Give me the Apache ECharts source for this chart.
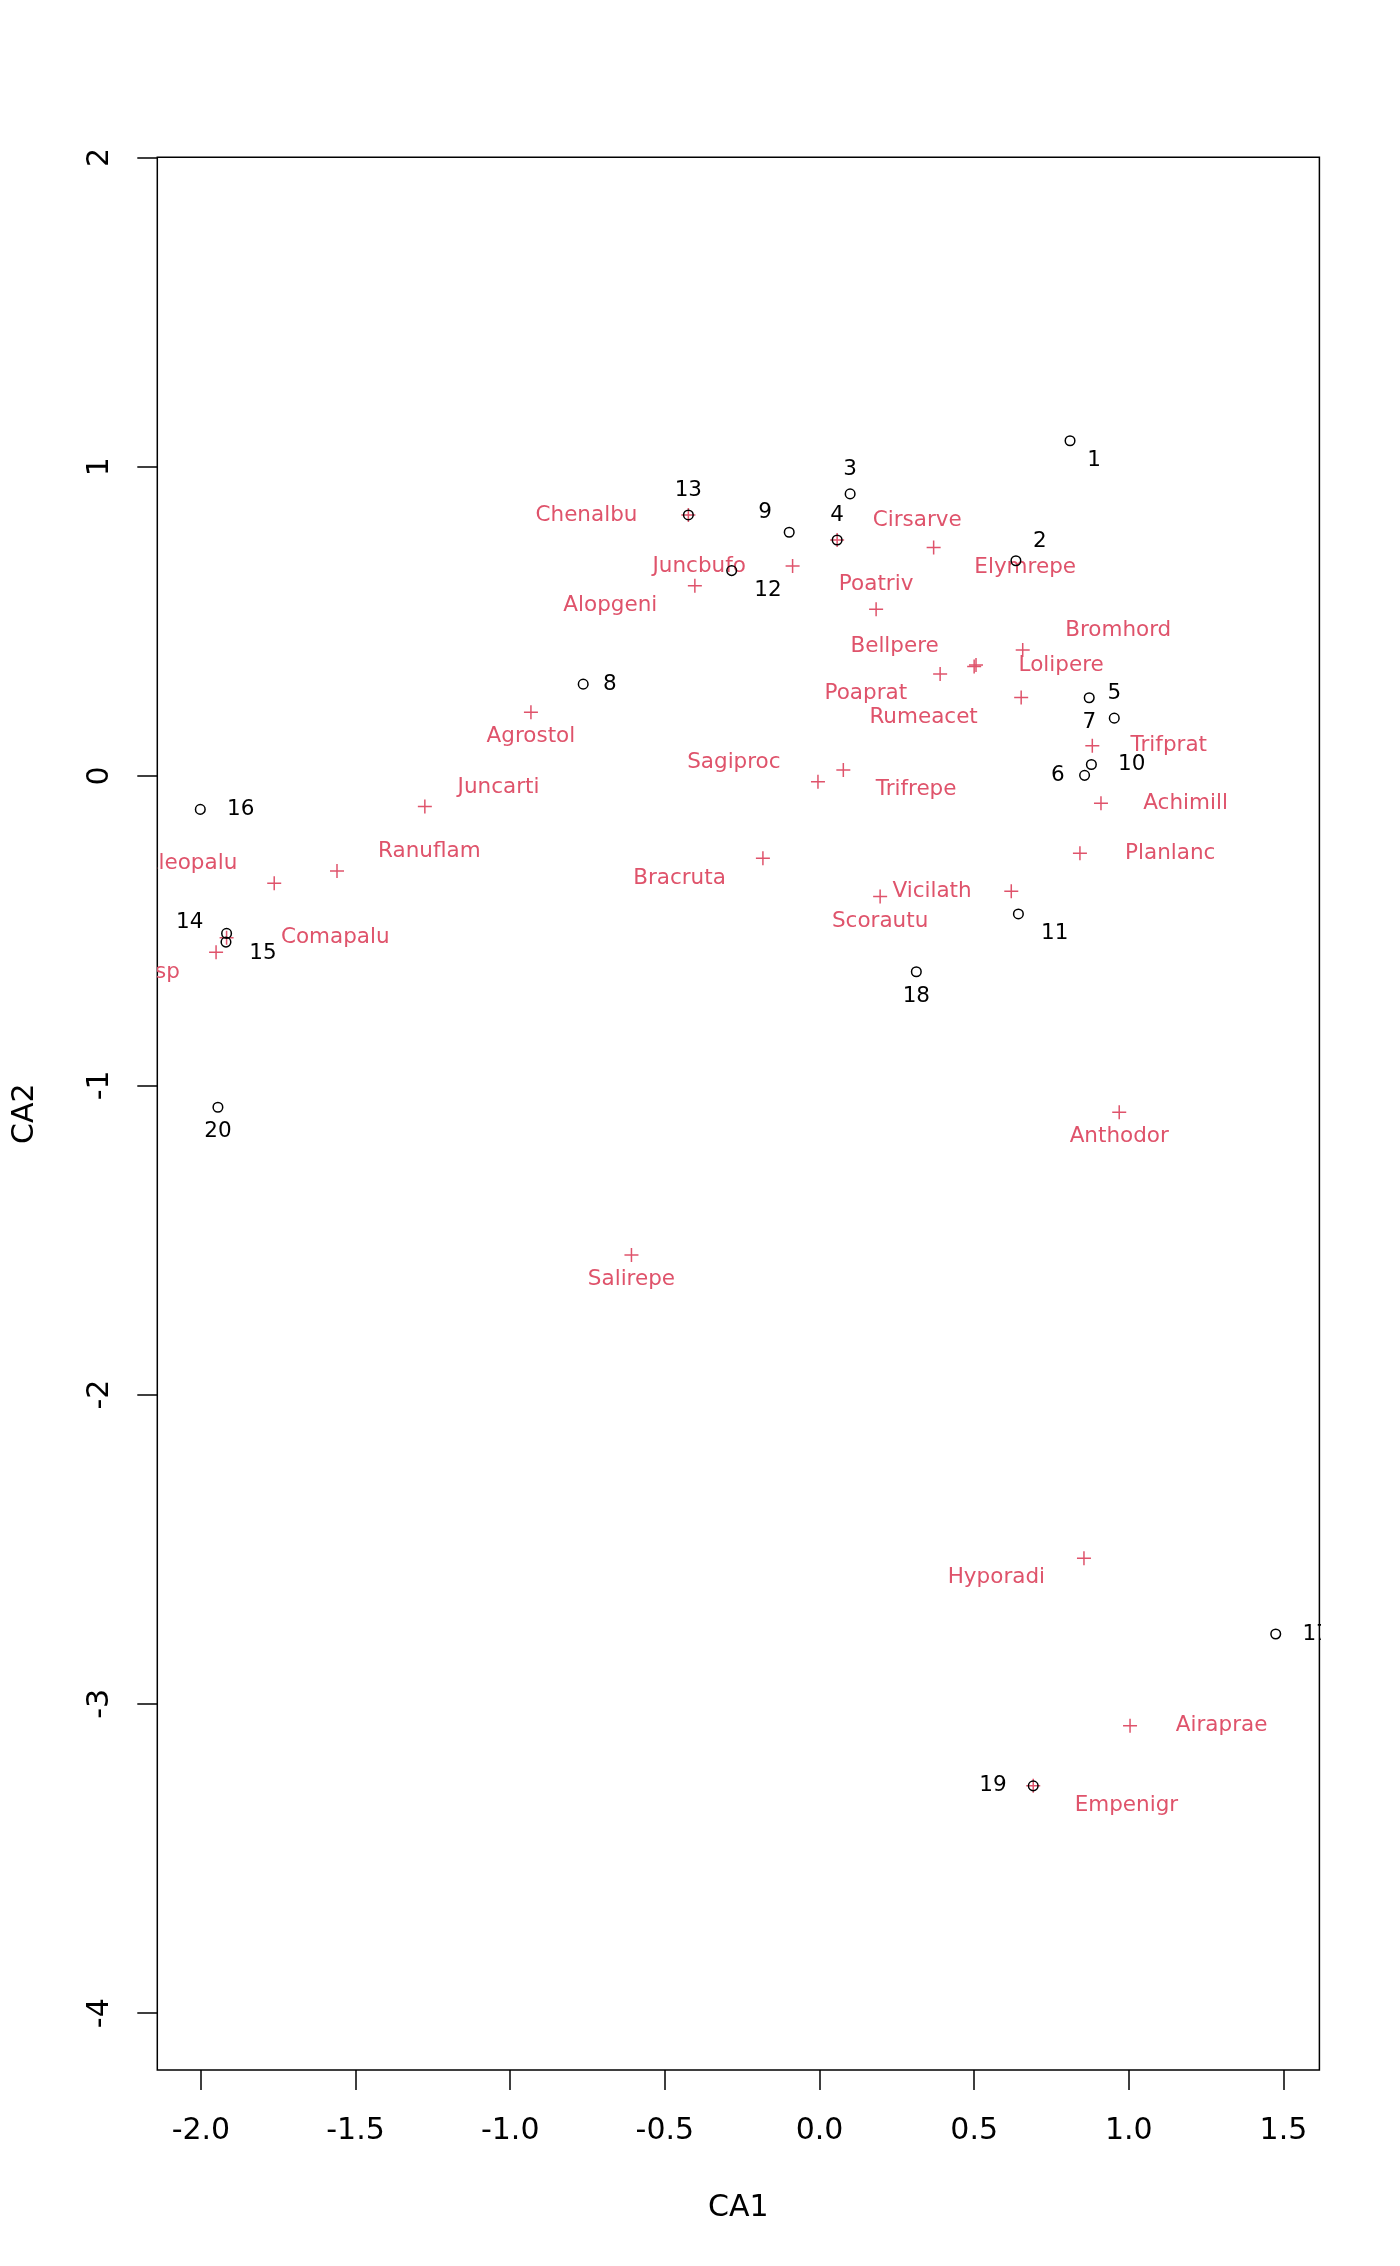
<!DOCTYPE html>
<html>
<head>
<meta charset="utf-8">
<title>CA biplot</title>
<script src="https://cdn.jsdelivr.net/npm/echarts@6/dist/echarts.min.js"></script>
<style>
  html, body { margin: 0; padding: 0; background: #fff; }
  #main { width: 1400px; height: 2266px; }
</style>
</head>
<body>
<div id="main"></div>
<script>
// site scores (CA1 / CA2)
var siteNames = ['1', '2', '3', '4', '5', '6', '7', '8', '9', '10',
  '11', '12', '13', '14', '15', '16', '17', '18', '19', '20'];
var siteCA1 = [0.810, 0.635, 0.099, 0.057, 0.953, 0.857, 0.872, -0.764, -0.098, 0.879,
  0.643, -0.284, -0.424, -1.919, -1.917, -2.002, 1.475, 0.313, 0.691, -1.945];
var siteCA2 = [1.084, 0.696, 0.912, 0.763, 0.187, 0.002, 0.253, 0.297, 0.788, 0.037,
  -0.446, 0.664, 0.844, -0.537, -0.509, -0.108, -2.774, -0.633, -3.265, -1.071];

// species scores (CA1 / CA2)
var speciesNames = ['Chenalbu', 'Cirsarve', 'Elymrepe', 'Juncbufo', 'Alopgeni', 'Poatriv',
  'Bromhord', 'Lolipere', 'Bellpere', 'Poaprat', 'Rumeacet', 'Trifprat', 'Achimill',
  'Planlanc', 'Sagiproc', 'Trifrepe', 'Bracruta', 'Vicilath', 'Scorautu', 'Agrostol',
  'Juncarti', 'Ranuflam', 'Eleopalu', 'Comapalu', 'Callcusp', 'Anthodor', 'Salirepe',
  'Hyporadi', 'Airaprae', 'Empenigr'];
var speciesCA1 = [-0.424, 0.057, 0.369, -0.087, -0.403, 0.183,
  0.657, 0.506, 0.500, 0.390, 0.652, 0.882, 0.910,
  0.842, -0.005, 0.077, -0.183, 0.620, 0.196, -0.933,
  -1.276, -1.560, -1.763, -1.917, -1.951, 0.969, -0.608,
  0.855, 1.004, 0.691];
var speciesCA2 = [0.844, 0.763, 0.739, 0.679, 0.615, 0.539,
  0.407, 0.359, 0.354, 0.330, 0.254, 0.098, -0.088,
  -0.250, -0.019, 0.019, -0.266, -0.373, -0.390, 0.206,
  -0.099, -0.307, -0.347, -0.523, -0.570, -1.087, -1.549,
  -2.529, -3.071, -3.265];

var xTicks = [-2, -1.5, -1, -0.5, 0, 0.5, 1, 1.5];
var yTicks = [-4, -3, -2, -1, 0, 1, 2];

// where each label sits around its point
var sitePos = ['SE', 'NE', 'N', 'N', 'N', 'W', 'S', 'E', 'NW', 'E',
  'SE', 'SE', 'N', 'NW', 'SE', 'E', 'E', 'S', 'W', 'S'];
var speciesPos = ['W', 'NE', 'SE', 'W', 'SW', 'N',
  'NE', 'E', 'NW', 'SW', 'SW', 'E', 'E',
  'E', 'NW', 'SE', 'SW', 'W', 'S', 'S',
  'NE', 'NE', 'NW', 'E', 'SW', 'S', 'S',
  'SW', 'E', 'SE'];

var RED = '#DF536B';
var LABEL_FONT = '21.5px "DejaVu Sans"';
var dirs = {
  N: [0, -1], S: [0, 1], E: [1, 0], W: [-1, 0],
  NE: [0.9, -0.8], SE: [0.9, 0.8], NW: [-0.9, -0.8], SW: [-0.9, 0.8]
};

var ctx = document.createElement('canvas').getContext('2d');
ctx.font = LABEL_FONT;
function textWidth(s) {
  return ctx.measureText(s).width;
}

function labelEl(p, name, pos, pad, color) {
  var d = dirs[pos];
  var w = textWidth(name) + pad;
  return {
    type: 'text',
    x: p[0] + d[0] * w,
    y: p[1] + d[1] * 24.6,
    style: {
      text: name, font: LABEL_FONT, fill: color,
      align: 'center', verticalAlign: 'middle',
      textAlign: 'center', textVerticalAlign: 'middle'
    }
  };
}

function speciesItem(params, api) {
  var i = params.dataIndex;
  var p = api.coord([api.value(0), api.value(1)]);
  return {
    type: 'group',
    children: [
      {type: 'line', shape: {x1: p[0] - 7, y1: p[1], x2: p[0] + 7, y2: p[1]},
        style: {stroke: RED, lineWidth: 1.5}},
      {type: 'line', shape: {x1: p[0], y1: p[1] - 7, x2: p[0], y2: p[1] + 7},
        style: {stroke: RED, lineWidth: 1.5}},
      labelEl(p, speciesNames[i], speciesPos[i], 0, RED)
    ]
  };
}

function siteItem(params, api) {
  var i = params.dataIndex;
  var p = api.coord([api.value(0), api.value(1)]);
  return {
    type: 'group',
    children: [
      {type: 'circle', shape: {cx: p[0], cy: p[1], r: 4.8},
        style: {stroke: '#000', fill: 'none', lineWidth: 1.5}},
      labelEl(p, siteNames[i], sitePos[i], 13, '#000')
    ]
  };
}

var axisFont = {fontFamily: 'DejaVu Sans', fontSize: 30, color: '#000'};

var chart = echarts.init(document.getElementById('main'));
chart.setOption({
  backgroundColor: '#fff',
  animation: false,
  grid: {
    left: 157.3, right: 80.6, top: 157.3, bottom: 196,
    show: true, borderColor: '#000', borderWidth: 1.5
  },
  xAxis: {
    type: 'value', min: -2.141, max: 1.6162,
    name: 'CA1', nameLocation: 'middle', nameGap: 123,
    nameTextStyle: axisFont,
    axisLine: {show: false, onZero: false},
    splitLine: {show: false},
    axisTick: {show: true, length: 20, customValues: xTicks,
      lineStyle: {color: '#000', width: 1.5}},
    axisLabel: {customValues: xTicks, margin: 46,
      formatter: function (v) { return v.toFixed(1); },
      fontFamily: 'DejaVu Sans', fontSize: 30, color: '#000'}
  },
  yAxis: {
    type: 'value', min: -4.1837, max: 2.0003,
    name: 'CA2', nameLocation: 'middle', nameGap: 117, nameRotate: 90,
    nameTextStyle: axisFont,
    axisLine: {show: false, onZero: false},
    splitLine: {show: false},
    axisTick: {show: true, length: 20, customValues: yTicks,
      lineStyle: {color: '#000', width: 1.5}},
    axisLabel: {customValues: yTicks, margin: 42, rotate: 90,
      formatter: function (v) { return String(v); },
      fontFamily: 'DejaVu Sans', fontSize: 30, color: '#000'}
  },
  series: [
    {
      name: 'species', type: 'custom', clip: true, z: 2,
      renderItem: speciesItem,
      data: speciesCA1.map(function (x, i) { return [x, speciesCA2[i]]; })
    },
    {
      name: 'sites', type: 'custom', clip: true, z: 3,
      renderItem: siteItem,
      data: siteCA1.map(function (x, i) { return [x, siteCA2[i]]; })
    }
  ]
});
</script>
</body>
</html>
